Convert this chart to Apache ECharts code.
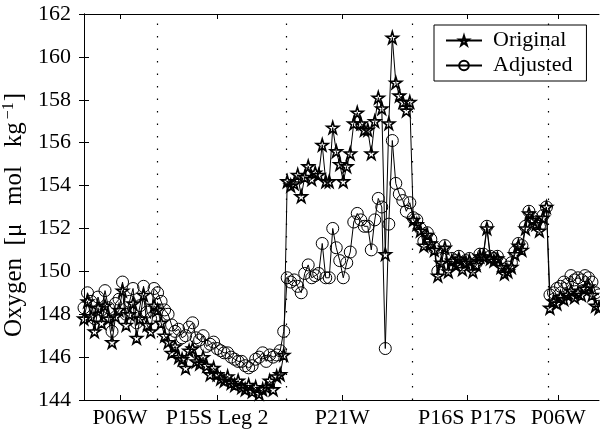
<!DOCTYPE html>
<html>
<head>
    <meta charset="utf-8">
    <title>Oxygen</title>
    <script src="https://cdn.jsdelivr.net/npm/echarts@6/dist/echarts.min.js"></script>
    <style>
        html, body { margin: 0; padding: 0; background: #fff; }
        #chart { width: 600px; height: 429px; }
    </style>
</head>
<body>
<div id="chart"></div>
<script type="text/javascript">
    // section labels and where they sit along the station index
    var tickLabels = ['P06W', 'P15S Leg 2', 'P21W', 'P16S P17S', 'P06W'];
    var tickPos = [10.3, 38, 73.7, 109.4, 135.4];
    var sectionBreaks = [20.9, 57.7, 93.8, 132.6];

    // original oxygen, per section
    var origP06W = [147.8, 148.6, 147.9, 147.2, 148.3, 147.6, 148.4, 147.8, 146.7, 147.9, 148.2,
        149.1, 147.5, 148.0, 148.5, 146.9, 147.8, 148.9, 147.5, 147.2, 148.4];
    var origP15S = [148.2, 147.6, 147.0, 146.7, 146.2, 146.5, 146.0, 145.9, 145.5, 146.3, 146.4,
        145.8, 145.7, 146.0, 145.6, 145.2, 145.5, 145.2, 145.0, 144.9, 145.1, 144.8, 144.7,
        144.9, 144.6, 144.5, 144.7, 144.4, 144.6, 144.3, 144.5, 144.6, 144.9, 144.5, 145.1,
        145.2, 146.1];
    var origP21W = [154.2, 154.0, 154.1, 154.5, 153.5, 154.4, 154.9, 154.3, 154.6, 154.5, 155.9,
        154.2, 154.2, 156.7, 155.6, 155.0, 154.2, 154.9, 155.5, 156.9, 157.4, 156.9, 156.6,
        156.6, 155.5, 157.0, 158.1, 157.6, 150.8, 156.9, 160.9, 158.8, 158.2, 157.9, 157.5,
        157.9];
    var origP16S = [152.4, 152.2, 151.9, 151.2, 151.7, 151.3, 151.0, 149.8, 150.4, 151.1, 150.0,
        150.5, 150.3, 150.6, 150.1, 150.4, 150.5, 150.0, 150.3, 150.7, 150.7, 152.0, 150.6,
        150.5, 150.6, 150.2, 149.9, 150.0, 150.2, 150.8, 151.2, 151.0, 152.0, 152.7, 152.4,
        152.2, 151.9, 152.5, 153.0];
    var origP06Wb = [148.3, 148.6, 148.5, 148.8, 148.7, 148.9, 149.1, 148.8, 149.0, 148.9, 149.2,
        149.3, 148.9, 148.4, 148.3];

    // adjusted oxygen, per section
    var adjP06W = [148.3, 149.0, 148.6, 147.8, 148.8, 148.2, 149.1, 148.3, 147.2, 148.5, 148.7,
        149.5, 148.0, 148.6, 149.2, 147.6, 148.4, 149.3, 148.1, 147.8, 149.2];
    var adjP15S = [149.0, 148.6, 148.2, 148.0, 147.5, 147.2, 147.3, 146.9, 147.0, 147.4, 147.6,
        146.9, 146.8, 147.0, 146.5, 146.6, 146.7, 146.4, 146.3, 146.2, 146.2, 146.0, 145.9,
        145.8, 145.8, 145.6, 145.5, 145.6, 145.9, 146.0, 146.2, 145.8, 146.1, 146.0, 146.1,
        146.3, 147.2];
    var adjP21W = [149.7, 149.5, 149.6, 149.3, 149.0, 149.9, 150.3, 149.7, 149.8, 149.9, 151.3,
        149.7, 149.7, 152.0, 151.1, 150.5, 149.7, 150.4, 150.9, 152.3, 152.7, 152.4, 152.1,
        152.1, 151.0, 152.4, 153.4, 153.0, 146.4, 152.2, 156.1, 154.1, 153.6, 153.3, 152.8,
        153.2];
    var adjP16S = [152.5, 152.4, 152.0, 151.4, 151.8, 151.5, 151.1, 150.0, 150.6, 151.2, 150.2,
        150.6, 150.5, 150.7, 150.3, 150.5, 150.6, 150.2, 150.4, 150.8, 150.8, 152.1, 150.7,
        150.6, 150.7, 150.4, 150.1, 150.2, 150.4, 150.9, 151.3, 151.2, 152.1, 152.8, 152.5,
        152.3, 152.1, 152.6, 153.0];
    var adjP06Wb = [148.9, 149.0, 149.2, 149.3, 149.5, 149.4, 149.8, 149.6, 149.7, 149.6, 149.8,
        149.7, 149.5, 149.0, 148.9];

    var original = [].concat(origP06W, origP15S, origP21W, origP16S, origP06Wb);
    var adjusted = [].concat(adjP06W, adjP15S, adjP21W, adjP16S, adjP06Wb);

    function toPairs(arr) {
        return arr.map(function (v, i) { return [i, v]; });
    }

    var starPath = 'path://M50,0 L61,35 L98,35 L68,57 L79,91 L50,70 L21,91 L32,57 L2,35 L39,35 Z';
    var font = 'Liberation Serif';

    var myChart = echarts.init(document.getElementById('chart'));
    myChart.setOption({
        animation: false,
        backgroundColor: '#fff',
        textStyle: {fontFamily: font},
        grid: {left: 84, right: 1, top: 14, bottom: 29, outerBoundsMode: 'none'},
        legend: {
            orient: 'vertical',
            left: 434,
            top: 25,
            padding: [3, 14, 3, 11],
            itemGap: 0,
            itemWidth: 36,
            itemHeight: 12,
            borderColor: '#000',
            borderWidth: 1,
            backgroundColor: '#fff',
            textStyle: {fontFamily: font, fontSize: 22, color: '#000', lineHeight: 25, padding: [0, 0, 0, 6]},
            data: ['Original', 'Adjusted']
        },
        xAxis: [{
            type: 'value',
            min: 0,
            max: 147,
            splitLine: {show: false},
            axisLine: {lineStyle: {color: '#000', width: 1}},
            axisTick: {inside: true, length: 5, customValues: tickPos, lineStyle: {color: '#000'}},
            axisLabel: {
                customValues: tickPos,
                color: '#000',
                fontSize: 22,
                fontFamily: font,
                margin: 7,
                formatter: function (v) {
                    var k = tickPos.indexOf(v);
                    return k >= 0 ? tickLabels[k] : '';
                }
            }
        }, {
            type: 'value',
            position: 'top',
            min: 0,
            max: 147,
            splitLine: {show: false},
            axisLine: {lineStyle: {color: '#000', width: 1}},
            axisTick: {inside: true, length: 5, customValues: tickPos, lineStyle: {color: '#000'}},
            axisLabel: {show: false}
        }],
        yAxis: [{
            type: 'value',
            min: 144,
            max: 162,
            interval: 2,
            name: 'Oxygen\u2002[μ\u2002 mol\u2002 kg{sup|−1}]',
            nameLocation: 'middle',
            nameGap: 49,
            nameTextStyle: {
                color: '#000',
                fontSize: 25,
                fontFamily: font,
                padding: [0, 16, 0, 0],
                rich: {
                    sup: {fontSize: 16, fontFamily: font, color: '#000', verticalAlign: 'bottom', padding: [0, 1, 12, 3]}
                }
            },
            splitLine: {show: false},
            axisLine: {lineStyle: {color: '#000', width: 1}},
            axisTick: {inside: true, length: 5, lineStyle: {color: '#000'}},
            axisLabel: {color: '#000', fontSize: 22, fontFamily: font, margin: 13}
        }, {
            type: 'value',
            position: 'right',
            min: 144,
            max: 162,
            interval: 2,
            splitLine: {show: false},
            axisLine: {lineStyle: {color: '#000', width: 1}},
            axisTick: {inside: true, length: 5, lineStyle: {color: '#000'}},
            axisLabel: {show: false}
        }],
        series: [{
            name: 'Original',
            type: 'line',
            data: toPairs(original),
            symbol: starPath,
            symbolSize: 12,
            lineStyle: {color: '#000', width: 1},
            itemStyle: {color: 'rgba(255,255,255,0)', borderColor: '#000', borderWidth: 1.6},
            markLine: {
                silent: true,
                symbol: 'none',
                label: {show: false},
                lineStyle: {color: '#000', type: [1.5, 11], width: 1.2},
                data: sectionBreaks.map(function (x) { return {xAxis: x}; })
            }
        }, {
            name: 'Adjusted',
            type: 'line',
            data: toPairs(adjusted),
            symbol: 'circle',
            symbolSize: 12,
            lineStyle: {color: '#000', width: 1},
            itemStyle: {color: 'rgba(255,255,255,0)', borderColor: '#000', borderWidth: 1}
        }]
    });
</script>
</body>
</html>
